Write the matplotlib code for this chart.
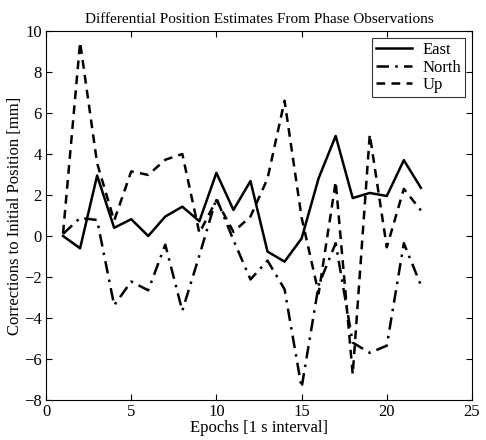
import numpy as np
import matplotlib
matplotlib.use("Agg")
import matplotlib.pyplot as plt

epochs = list(range(1, 23))
east = [0.0, -0.6, 2.95, 0.4, 0.82, 0.0, 0.95, 1.43, 0.72, 3.08, 1.27, 2.68,
        -0.76, -1.25, -0.12, 2.82, 4.88, 1.85, 2.1, 1.95, 3.7, 2.35]
north = [0.1, 0.88, 0.78, -3.38, -2.22, -2.65, -0.42, -3.65, -0.95, 1.85, -0.2, -2.12,
         -1.2, -2.6, -7.4, -2.4, -0.35, -5.2, -5.7, -5.35, -0.35, -2.4]
up = [0.12, 9.45, 3.55, 0.75, 3.15, 2.98, 3.72, 4.0, 0.15, 1.75, 0.2, 0.95,
      2.8, 6.6, 0.9, -2.8, 2.65, -6.75, 4.95, -0.55, 2.3, 1.25]

plt.rcParams['font.family'] = ['Liberation Serif', 'DejaVu Serif']

fig = plt.figure(figsize=(4.86, 4.40), dpi=100)
ax = fig.add_axes([46/486, 1-400/440, 426/486, 369/440])

ax.plot(epochs, east, 'k-', lw=1.8, label='East')
ax.plot(epochs, north, 'k-.', lw=1.8, label='North', dashes=(5, 2.5, 1, 2.5))
ax.plot(epochs, up, 'k--', lw=1.8, label='Up', dashes=(3.5, 2.5))

ax.set_xlim(0, 25)
ax.set_ylim(-8, 10)
ax.set_xticks(np.arange(0, 26, 5))
ax.set_yticks(np.arange(-8, 11, 2))
ax.tick_params(direction='in', top=True, right=True, labelsize=12, length=4, pad=3)
for s in ax.spines.values():
    s.set_linewidth(0.8)

ax.set_title('Differential Position Estimates From Phase Observations', fontsize=11, pad=6)
ax.set_xlabel('Epochs [1 s interval]', fontsize=12, labelpad=0)
ax.set_ylabel('Corrections to Initial Position [mm]', fontsize=12, labelpad=1)

leg = ax.legend(loc='upper right', fontsize=12, fancybox=False, edgecolor='k',
                handlelength=2.2, borderaxespad=0.4, labelspacing=0.1,
                borderpad=0.25, handletextpad=0.6)
leg.get_frame().set_linewidth(0.8)

fig.savefig('out.png', dpi=100)
